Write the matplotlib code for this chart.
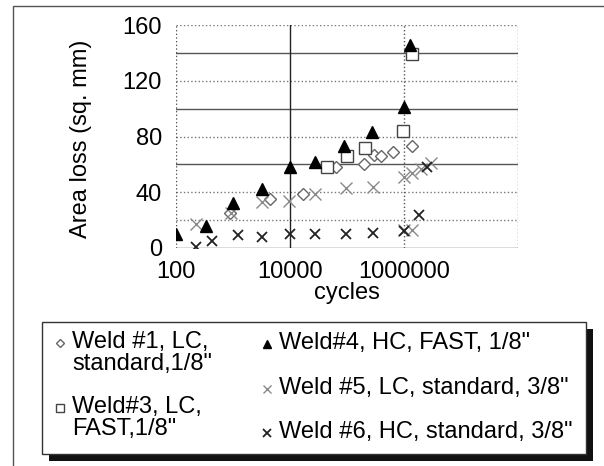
import numpy as np
import matplotlib
matplotlib.use("Agg")
import matplotlib.pyplot as plt
from matplotlib.patches import Rectangle
from matplotlib.lines import Line2D
from matplotlib.ticker import FixedLocator, NullLocator

plt.rcParams['font.family'] = ['Liberation Sans', 'DejaVu Sans']

# 데이터
w1_x = [900, 4500, 17000, 65000, 200000, 300000, 400000, 630000, 1400000]
w1_y = [25, 35, 39, 58, 60, 67, 66, 69, 73]

w3_x = [45000, 100000, 210000, 950000, 1400000]
w3_y = [58, 66, 72, 84, 139]

w4_x = [100, 340, 1000, 3200, 10000, 27000, 90000, 280000, 1000000, 1250000]
w4_y = [10, 16, 32, 42, 58, 62, 73, 83, 101, 146]

w5_x = [220, 940, 3200, 9500, 27000, 95000, 290000, 1000000, 1400000, 2000000, 3000000, 1000000, 1400000]
w5_y = [17, 25, 33, 34, 39, 43, 44, 51, 54, 57, 61, 13, 13]

w6_x = [220, 420, 1200, 3200, 10000, 28000, 95000, 290000, 1000000, 1800000, 2500000]
w6_y = [1, 5, 9, 8, 10, 10, 10, 11, 12, 24, 58]

labels = ['Weld #1, LC,\nstandard,1/8"', 'Weld#3, LC,\nFAST,1/8"',
          'Weld#4, HC, FAST, 1/8"', 'Weld #5, LC, standard, 3/8"',
          'Weld #6, HC, standard, 3/8"']

W, H = 604, 466
fig = plt.figure(figsize=(W / 100, H / 100), dpi=100)
ax = fig.add_axes([176 / W, 1 - 248 / H, 342 / W, 223 / H])

ax.set_xscale('log')
ax.set_xlim(100, 1e8)
ax.set_ylim(0, 160)

# 격자 (스캔 이미지처럼 실선/점선 섞어서)
for yv in [20, 40, 80, 120, 160]:
    ax.axhline(yv, color='#777777', linestyle=':', linewidth=1.0, zorder=0)
for yv in [0, 60, 100, 140]:
    ax.axhline(yv, color='#555555', linestyle='-', linewidth=1.0, zorder=0)
for xv in [100, 1e6, 1e8]:
    ax.axvline(xv, color='#555555', linestyle=':', linewidth=1.0, zorder=0)
ax.axvline(1e4, color='#222222', linestyle='-', linewidth=1.0, zorder=0)

for s in ax.spines.values():
    s.set_visible(False)

ax.xaxis.set_major_locator(FixedLocator([100, 1e4, 1e6]))
ax.xaxis.set_minor_locator(NullLocator())
ax.set_xticklabels(['100', '10000', '1000000'])
ax.set_yticks([0, 40, 80, 120, 160])
ax.tick_params(axis='x', labelsize=17, length=0, pad=9)
ax.tick_params(axis='y', labelsize=17, length=0, pad=10)

ax.set_xlabel('cycles', fontsize=17, labelpad=0)
ax.set_ylabel('Area loss (sq. mm)', fontsize=17)
ax.yaxis.set_label_coords(-0.245, 0.49)

h1, = ax.plot(w1_x, w1_y, linestyle='none', marker='D', markersize=6,
              markerfacecolor='white', markeredgecolor='#666666', markeredgewidth=1.0,
              zorder=3)
h3, = ax.plot(w3_x, w3_y, linestyle='none', marker='s', markersize=9,
              markerfacecolor='white', markeredgecolor='#444444', markeredgewidth=1.0,
              zorder=3)
h4, = ax.plot(w4_x, w4_y, linestyle='none', marker='^', markersize=9,
              color='black', zorder=4)
h5, = ax.plot(w5_x, w5_y, linestyle='none', marker='x', markersize=9,
              color='#8a8a8a', markeredgewidth=1.0, zorder=3)
h6, = ax.plot(w6_x, w6_y, linestyle='none', marker='x', markersize=7,
              color='#222222', markeredgewidth=1.3, zorder=3)

# 바깥 테두리 (위, 왼쪽만 보임)
fig.add_artist(Line2D([13 / W, 13 / W, 1], [0, 1 - 6 / H, 1 - 6 / H],
                      transform=fig.transFigure, color='#555555', linewidth=1.0))

# 범례 박스 + 그림자
fig.patches.append(Rectangle((49 / W, 1 - 461 / H), 544 / W, 132 / H,
                             transform=fig.transFigure, facecolor='#111111',
                             edgecolor='none', zorder=1))
fig.patches.append(Rectangle((42 / W, 1 - 454 / H), 544 / W, 132 / H,
                             transform=fig.transFigure, facecolor='white',
                             edgecolor='#333333', linewidth=1.0, zorder=2))

# 범례 항목 직접 배치 (왼쪽 2개, 오른쪽 3개)
handles = [h1, h3, h4, h5, h6]
slots = [(60, 343), (60, 408), (267, 344), (267, 389), (267, 433)]
mscale = [0.75, 0.6, 0.7, 0.7, 0.8]
for h, lbl, (px, py), ms in zip(handles, labels, slots, mscale):
    fig.add_artist(Line2D([px / W], [1 - py / H], transform=fig.transFigure,
                          linestyle='none', marker=h.get_marker(),
                          markersize=h.get_markersize() * ms,
                          markerfacecolor=h.get_markerfacecolor(),
                          markeredgecolor=h.get_markeredgecolor(),
                          markeredgewidth=h.get_markeredgewidth(), zorder=5))
    for i, line in enumerate(lbl.split('\n')):
        fig.text((px + 12) / W, 1 - (py - 1 + i * 22) / H, line, fontsize=17,
                 ha='left', va='center', zorder=5)

fig.savefig('out.png', dpi=100)
